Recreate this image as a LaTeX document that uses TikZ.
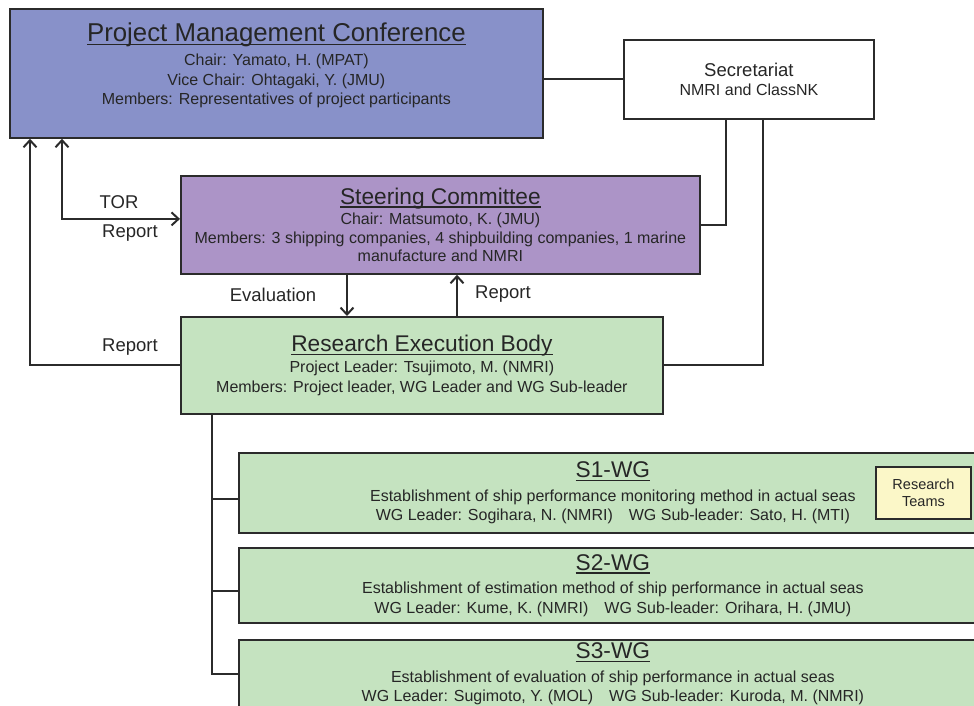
\documentclass[tikz,border=0pt]{standalone}
\usepackage{fontspec}
\setmainfont{Liberation Sans}
\usetikzlibrary{arrows.meta, positioning}
\definecolor{pmcblue}{HTML}{8891C9}
\definecolor{steerpurple}{HTML}{AC94C7}
\definecolor{rebgreen}{HTML}{C5E3C0}
\definecolor{teamyellow}{HTML}{FBF7C8}
\definecolor{linegray}{HTML}{2B2B2B}
\definecolor{textgray}{HTML}{262626}
\newcommand{\fsmall}{\fontsize{16}{19.5}\selectfont}
\newcommand{\fmid}{\fontsize{18.5}{22}\selectfont}
\newcommand{\ftitle}{\fontsize{22.7}{26}\selectfont}
\newcommand{\fbig}{\fontsize{25.8}{30}\selectfont}
\newcommand{\ultitle}[2][-3.5pt]{\sbox0{#2}\rlap{\usebox0}\rule[#1]{\wd0}{1.4pt}}
\tikzstyle{orgbox} = [rectangle, draw=linegray, line width=1.8pt, align=center, inner sep=0pt, anchor=north west, font=\fsmall, text=textgray]
\tikzstyle{line} = [draw=linegray, line width=2pt]
\tikzstyle{arrow} = [line, ->, >={Straight Barb[length=7pt, width=13pt]}]
\tikzstyle{darrow} = [line, <->, >={Straight Barb[length=7pt, width=13pt]}]
\tikzstyle{flowlabel} = [font=\fmid, text=textgray, inner sep=0pt]

\begin{document}
\begin{tikzpicture}[x=1pt, y=-1pt]
    \useasboundingbox (0,0) rectangle (974,705);
    \clip (0,0) rectangle (974,705);

    % boxes
    \node[orgbox, fill=pmcblue, minimum width=533pt, minimum height=129pt, text depth=20pt] (pmc) at (9,8)
        {{\fbig\ultitle[-4pt]{Project Management Conference}}\\[5pt]
         Chair: Yamato, H. (MPAT)\\ Vice Chair: Ohtagaki, Y. (JMU)\\ Members: Representatives of project participants};
    \node[orgbox, fill=white, minimum width=250pt, minimum height=79pt] (sec) at (623,39)
        {{\fmid Secretariat}\\ NMRI and ClassNK};
    \node[orgbox, fill=steerpurple, minimum width=519pt, minimum height=98pt] (steer) at (180,175)
        {{\ftitle\ultitle{Steering Committee}}\\[1pt]
         Chair: Matsumoto, K. (JMU)\\[-1pt] Members: 3 shipping companies, 4 shipbuilding companies, 1 marine\\[-1pt] manufacture and NMRI};
    \node[orgbox, fill=rebgreen, minimum width=482pt, minimum height=97pt] (reb) at (180,316)
        {{\ftitle\ultitle{Research Execution Body}}\\[2pt]
         Project Leader: Tsujimoto, M. (NMRI)\\ Members: Project leader, WG Leader and WG Sub-leader};
    \node[orgbox, fill=rebgreen, minimum width=748pt, minimum height=80pt] (s1) at (238,452)
        {{\ftitle\ultitle{S1-WG}}\\[4pt]
         Establishment of ship performance monitoring method in actual seas\\
         WG Leader: Sogihara, N. (NMRI)\hspace{16pt}WG Sub-leader: Sato, H. (MTI)};
    \node[orgbox, fill=rebgreen, minimum width=748pt, minimum height=75pt] (s2) at (238,547)
        {{\ftitle\ultitle{S2-WG}}\\[4pt]
         Establishment of estimation method of ship performance in actual seas\\
         WG Leader: Kume, K. (NMRI)\hspace{16pt}WG Sub-leader: Orihara, H. (JMU)};
    \node[orgbox, fill=rebgreen, minimum width=748pt, minimum height=68pt] (s3) at (238,639)
        {{\ftitle\ultitle{S3-WG}}\\[4pt]
         Establishment of evaluation of ship performance in actual seas\\
         WG Leader: Sugimoto, Y. (MOL)\hspace{16pt}WG Sub-leader: Kuroda, M. (NMRI)};
    \node[orgbox, anchor=center, fill=teamyellow, minimum width=95pt, minimum height=52pt, font=\fontsize{14.5}{16.5}\selectfont] (teams) at (923.5,493)
        {Research\\ Teams};

    % labels
    \node[flowlabel] (tor) at (119,202) {TOR};
    \node[flowlabel] (rep-sc) at (130,233) {Report};
    \node[flowlabel] (rep-pmc) at (130,347) {Report};
    \node[flowlabel] (eval) at (273,295) {Evaluation};
    \node[flowlabel] (rep-reb) at (503,294) {Report};

    % connectors
    \draw[line] (sec.west) -- (sec.west -| pmc.east);
    \draw[line] (steer.east) -| ([xshift=103pt]sec.south west);
    \draw[line] (reb.east) -| ([xshift=140pt]sec.south west);
    \draw[darrow] ([xshift=53pt]pmc.south west) |- ([yshift=6pt]steer.west);
    \draw[arrow] (reb.west) -| ([xshift=21pt]pmc.south west);
    \draw[arrow] ([xshift=167pt]steer.south west) -- ([xshift=167pt]steer.south west |- reb.north);
    \draw[arrow] ([xshift=277pt]reb.north west) -- ([xshift=277pt]reb.north west |- steer.south);
    \coordinate (trunk) at ([xshift=32pt]reb.south west);
    \draw[line] (trunk) |- (s3.west);
    \foreach \wg in {s1,s2}
        \draw[line] ([yshift=-6pt]\wg.west) -- ([yshift=-6pt]\wg.west -| trunk);
\end{tikzpicture}
\end{document}
